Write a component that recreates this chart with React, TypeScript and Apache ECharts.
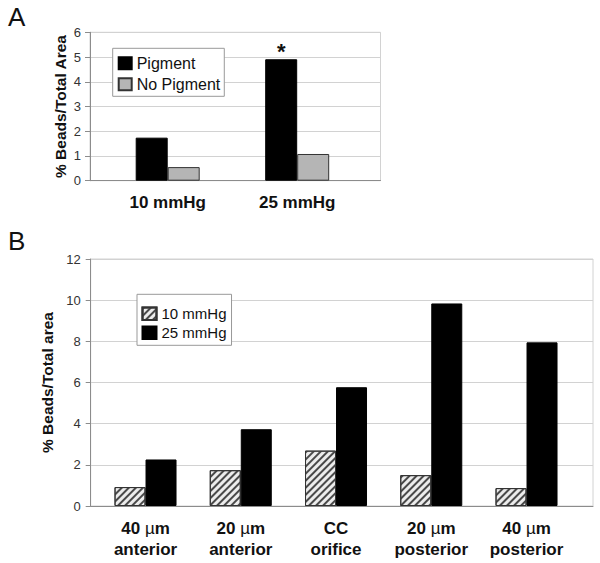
import React, { useEffect, useRef } from "react";
import * as echarts from "echarts";

const FONT = "'Liberation Sans', Arial, Helvetica, sans-serif";

// Panel A
const catsA = ["10 mmHg", "25 mmHg"];
const pigmentA = [1.74, 4.91];
const noPigmentA = [0.55, 1.08];
const sigA = ["", "*"];
const ticksA = { min: 0, max: 6, step: 1 };

// Panel B
const catsB = ["40 µm\nanterior", "20 µm\nanterior", "CC\norifice", "20 µm\nposterior", "40 µm\nposterior"];
const mmHg10B = [0.92, 1.74, 2.69, 1.5, 0.87];
const mmHg25B = [2.26, 3.73, 5.77, 9.84, 7.95];
const ticksB = { min: 0, max: 12, step: 2 };

const AXIS = "#8c8c8c";
const GRIDLINE = "#d2d2d2";

function richLabel(v: string) {
  return v
    .split("\n")
    .map((line) => {
      if (line.indexOf("µ") >= 0) {
        const [a, b] = line.split("µ");
        return `{b|${a}}{u|µ}{b|${b}}`;
      }
      return `{b|${line}}`;
    })
    .join("\n");
}

export default function App() {
  const ref = useRef<HTMLDivElement>(null);
  useEffect(() => {
    const chart = echarts.init(ref.current!, undefined, { renderer: "svg" });
    const yBase = (g: number, t: { min: number; max: number; step: number }, name: string, nameGap: number, margin: number) => ({
      gridIndex: g,
      type: "value",
      min: t.min,
      max: t.max,
      interval: t.step,
      axisLine: { show: true, lineStyle: { color: AXIS } },
      axisTick: { show: true, length: 5, lineStyle: { color: AXIS } },
      axisLabel: { fontSize: 13, color: "#333", margin, fontFamily: FONT },
      splitLine: { show: true, lineStyle: { color: GRIDLINE } },
      name,
      nameLocation: "middle",
      nameGap,
      nameTextStyle: { fontSize: 15.5, fontWeight: "bold", color: "#111", fontFamily: FONT },
    });
    const yHidden = (g: number, t: { min: number; max: number; step: number }) => ({
      gridIndex: g,
      type: "value",
      min: t.min,
      max: t.max,
      interval: t.step,
      show: false,
    });
    const xFrame = (g: number) => ({
      gridIndex: g,
      type: "value",
      min: 0,
      max: 1,
      axisLine: { show: true, onZero: false, lineStyle: { color: AXIS } },
      axisTick: { show: false },
      axisLabel: { show: false },
      splitLine: { show: false },
    });
    const option: any = {
      animation: false,
      textStyle: { fontFamily: FONT },
      graphic: [
        { type: "text", left: 8, top: 4, style: { text: "A", fontSize: 26, fontFamily: FONT, fill: "#111" } },
        { type: "text", left: 8, top: 228, style: { text: "B", fontSize: 26, fontFamily: FONT, fill: "#111" } },
      ],
      grid: [
        { left: 90, top: 32.3, width: 290.5, height: 148.4, show: true, borderColor: GRIDLINE, borderWidth: 1 },
        { left: 102.95, top: 32.3, width: 259, height: 148.4 },
        { left: 90.7, top: 259, width: 502.3, height: 247, show: true, borderColor: GRIDLINE, borderWidth: 1 },
        { left: 97.9, top: 259, width: 476.25, height: 247 },
      ],
      xAxis: [
        xFrame(0),
        {
          gridIndex: 1,
          type: "category",
          data: catsA,
          axisLine: { show: false },
          axisTick: { show: false },
          axisLabel: { fontSize: 17, fontWeight: "bold", color: "#111", margin: 13, fontFamily: FONT },
        },
        xFrame(2),
        {
          gridIndex: 3,
          type: "category",
          data: catsB,
          axisLine: { show: false },
          axisTick: { show: false },
          axisLabel: {
            interval: 0,
            margin: 12,
            formatter: richLabel,
            rich: {
              b: { fontSize: 17, fontWeight: "bold", color: "#111", lineHeight: 21, fontFamily: FONT },
              u: { fontSize: 17, fontWeight: "normal", color: "#111", lineHeight: 21, fontFamily: FONT },
            },
          },
        },
      ],
      yAxis: [
        yBase(0, ticksA, "% Beads/Total Area", 22, 9),
        yHidden(1, ticksA),
        yBase(2, ticksB, "% Beads/Total area", 23, 10),
        yHidden(3, ticksB),
      ],
      legend: [
        {
          data: ["Pigment", "No Pigment"],
          orient: "vertical",
          left: 112.7,
          top: 48.3,
          padding: [7, 4, 4, 5],
          itemGap: 5,
          itemWidth: 13,
          itemHeight: 12,
          icon: "rect",
          backgroundColor: "#fff",
          borderColor: "#999",
          borderWidth: 1,
          selectedMode: false,
          textStyle: { fontSize: 16, color: "#111", fontFamily: FONT },
        },
        {
          data: ["10 mmHg", "25 mmHg"],
          orient: "vertical",
          left: 137,
          top: 294.3,
          padding: [12, 5, 5, 4.5],
          itemGap: 4,
          itemWidth: 14,
          itemHeight: 12.5,
          icon: "rect",
          backgroundColor: "#fff",
          borderColor: "#999",
          borderWidth: 1,
          selectedMode: false,
          textStyle: { fontSize: 15, color: "#111", fontFamily: FONT },
        },
      ],
      series: [
        {
          name: "Pigment",
          type: "bar",
          xAxisIndex: 1,
          yAxisIndex: 1,
          barWidth: 32,
          barGap: "0%",
          itemStyle: { color: "#000", borderColor: "#000", borderWidth: 1 },
          data: pigmentA.map((v, i) => ({
            value: v,
            label: {
              show: sigA[i] !== "",
              position: "top",
              distance: -3,
              formatter: sigA[i],
              fontSize: 22,
              fontWeight: "bold",
              color: "#111",
              fontFamily: FONT,
            },
          })),
        },
        {
          name: "No Pigment",
          type: "bar",
          xAxisIndex: 1,
          yAxisIndex: 1,
          barWidth: 32,
          barGap: "0%",
          itemStyle: { color: "#b5b5b5", borderColor: "#333", borderWidth: 1 },
          data: noPigmentA,
        },
        {
          name: "10 mmHg",
          type: "bar",
          xAxisIndex: 3,
          yAxisIndex: 3,
          barWidth: 31,
          barGap: "0%",
          itemStyle: {
            color: "#ececec",
            borderColor: "#333",
            borderWidth: 1,
            decal: {
              symbol: "rect",
              symbolSize: 1,
              dashArrayX: [1, 0],
              dashArrayY: [1.6, 2.2],
              rotation: -Math.PI / 4,
              color: "#4a4a4a",
            },
          },
          data: mmHg10B,
        },
        {
          name: "25 mmHg",
          type: "bar",
          xAxisIndex: 3,
          yAxisIndex: 3,
          barWidth: 31,
          barGap: "0%",
          itemStyle: { color: "#000", borderColor: "#000", borderWidth: 1 },
          data: mmHg25B,
        },
      ],
    };
    chart.setOption(option);
    return () => chart.dispose();
  }, []);
  return <div ref={ref} style={{ position: "absolute", left: 0, top: 0, width: 600, height: 563 }} />;
}
